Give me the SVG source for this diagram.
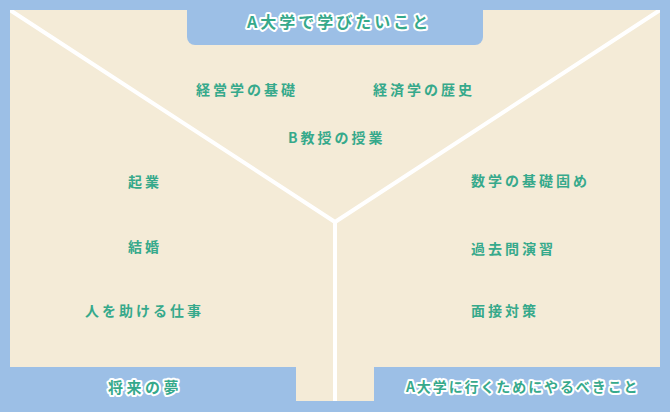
<svg xmlns="http://www.w3.org/2000/svg" width="670" height="412" viewBox="0 0 670 412">
<defs>
<style>
.bg{fill:#9cbfe6}
.panel{fill:#f4ebd7}
.lbl{font-family:"Noto Sans CJK JP","Noto Sans",sans-serif;font-weight:700;font-size:14px;letter-spacing:3px;fill:#36a98b}
.tab{font-family:"Noto Sans CJK JP","Noto Sans",sans-serif;font-weight:700;fill:#36a98b;stroke:#ffffff;stroke-width:4;stroke-linejoin:round;paint-order:stroke}
.conn{stroke:#ffffff;stroke-width:4;fill:none}
</style>
<clipPath id="pc"><rect x="10" y="10" width="650" height="391"/></clipPath>
</defs>
<rect class="bg" x="0" y="0" width="670" height="412"/>
<rect class="panel" x="10" y="10" width="650" height="357"/>
<rect class="panel" x="296" y="360" width="78" height="41"/>
<g id="connectors" clip-path="url(#pc)">
<path class="conn" d="M10,10 L335,222 L660,10"/>
<line class="conn" x1="335" y1="222" x2="335" y2="401"/>
</g>
<g id="tab-top">
<path class="bg" d="M187,0 H483 V37 A8,8 0 0 1 475,45 H195 A8,8 0 0 1 187,37 Z"/>
<text class="tab" x="247" y="28" font-size="16" letter-spacing="3">A大学で学びたいこと</text>
</g>
<g id="tab-bottom-left">
<path class="bg" d="M0,367 H288 A8,8 0 0 1 296,375 V412 H0 Z"/>
<text class="tab" x="108" y="393" font-size="15" letter-spacing="3.5">将来の夢</text>
</g>
<g id="tab-bottom-right">
<path class="bg" d="M374,412 V375 A8,8 0 0 1 382,367 H670 V412 Z"/>
<text class="tab" x="406" y="392" font-size="14" letter-spacing="1.9">A大学に行くためにやるべきこと</text>
</g>
<rect class="bg" x="0" y="401" width="670" height="11"/>
<g id="n-keiei"><text class="lbl" x="196" y="94.5">経営学の基礎</text></g>
<g id="n-keizai"><text class="lbl" x="373" y="94.5">経済学の歴史</text></g>
<g id="n-b"><text class="lbl" x="288" y="143">B教授の授業</text></g>
<g id="n-kigyo"><text class="lbl" x="128" y="187">起業</text></g>
<g id="n-kekkon"><text class="lbl" x="128" y="252">結婚</text></g>
<g id="n-hito"><text class="lbl" x="85" y="316">人を助ける仕事</text></g>
<g id="n-sugaku"><text class="lbl" x="471" y="186">数学の基礎固め</text></g>
<g id="n-kako"><text class="lbl" x="471" y="254">過去問演習</text></g>
<g id="n-mensetsu"><text class="lbl" x="471" y="316">面接対策</text></g>
</svg>
